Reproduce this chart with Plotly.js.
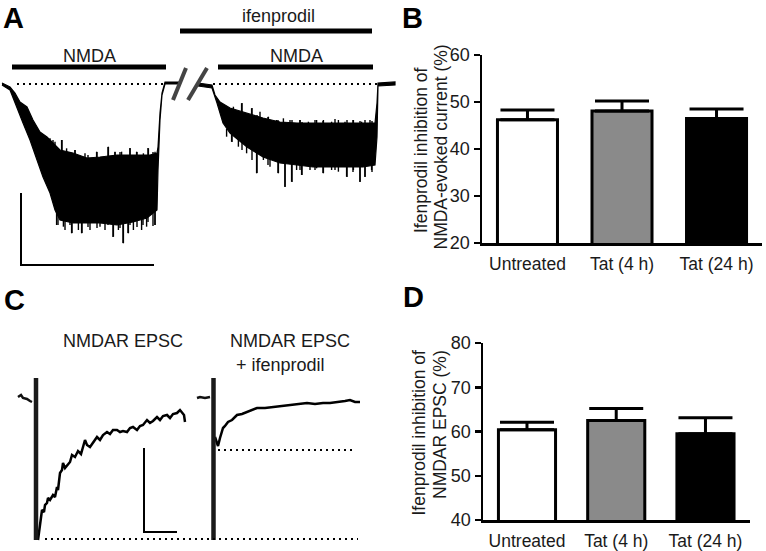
<!DOCTYPE html>
<html>
<head>
<meta charset="utf-8">
<script src="https://cdn.plot.ly/plotly-3.0.1.min.js"></script>
<style>html,body{margin:0;padding:0;background:#fff}#fig{width:766px;height:551px}</style>
</head>
<body>
<div id="fig"></div>
<script>
// ---------- Panel B / D : bar data ----------
const categories = ["Untreated", "Tat (4 h)", "Tat (24 h)"];
const barColors = ["#ffffff", "#8a8a8a", "#000000"];
const inhibCurrent = [46.2, 48.1, 46.5];      // % inhibition of NMDA-evoked current
const inhibCurrentErr = [2.1, 2.1, 2.0];
const inhibEPSC = [60.4, 62.5, 59.5];          // % inhibition of NMDAR EPSC
const inhibEPSCErr = [1.7, 2.7, 3.6];
const yTicksB = [20, 30, 40, 50, 60];
const yTicksD = [40, 50, 60, 70, 80];

// ---------- Panel A : whole-cell NMDA current (time s, current pA) ----------
// trace 1 (control) noisy band: upper and lower envelopes
const a1UpperT = [1, 5, 7.5, 10, 13.5, 16.5, 20, 23.5, 26.5, 30, 36.5, 43.5, 50, 58.5, 66.5, 75, 78.5, 79, 80, 81, 82.5, 90];
const a1UpperI = [10, -30, -90, -180, -230, -360, -480, -530, -590, -660, -690, -740, -730, -710, -710, -710, -690, -630, -290, -90, 20, 20];
const a1LowerT = [1, 5, 8.5, 11.5, 15, 18.5, 21.5, 25, 27.5, 30, 36.5, 43.5, 50, 58.5, 66.5, 73.5, 78.5, 79, 80, 81, 82.5, 90];
const a1LowerI = [-10, -60, -230, -390, -560, -760, -930, -1090, -1260, -1360, -1390, -1390, -1390, -1410, -1380, -1340, -1260, -860, -360, -110, 0, 0];
// noise excursions of trace 1 (time, top, bottom)
const a1SpikeT  = [26.5, 29, 31, 32.5, 35, 36, 37.5, 41, 44, 48.5, 54, 56.5, 57.5, 60, 61.5, 64, 65, 68.5, 71.5, 74, 76.5, 77.5];
const a1SpikeHi = [-560, -660, -560, -710, -680, -710, -660, -760, -710, -680, -630, -710, -680, -680, -710, -740, -640, -680, -710, -640, -680, -710];
const a1SpikeLo = [-1160, -1410, -1310, -1460, -1410, -1490, -1360, -1490, -1430, -1440, -1410, -1530, -1410, -1440, -1590, -1490, -1410, -1430, -1410, -1380, -1420, -1410];
// further upward / downward noise peaks of trace 1
const a1UpT = [25, 27.5, 30.8, 33.3, 37.5, 42.5, 48.3, 54.2, 57.5, 60.8, 65, 68.3, 71.7, 74.2, 77.5];
const a1UpI = [-543, -577, -560, -643, -660, -693, -677, -627, -677, -677, -643, -677, -693, -643, -677];
const a1DownT = [28.3, 31.7, 35.8, 39.2, 40.8, 45, 50, 52.5, 56.7, 59.2, 61.7, 64.2, 66.7, 70.8, 73.3, 77.5];
const a1DownI = [-1410, -1427, -1493, -1460, -1493, -1460, -1427, -1460, -1527, -1460, -1593, -1493, -1460, -1460, -1427, -1410];
// trace 2 (ifenprodil)
const a2UpperT = [99, 106, 107.5, 110, 115, 123.5, 131.5, 140, 148.5, 156.5, 165, 173.5, 181.5, 187.5, 188.5, 189, 197.5];
const a2UpperI = [10, -10, -110, -180, -240, -290, -340, -380, -390, -390, -390, -390, -390, -390, -190, 10, 20];
const a2LowerT = [99, 106, 108.5, 111.5, 115, 123.5, 131.5, 140, 148.5, 156.5, 165, 173.5, 181.5, 187.5, 188.5, 189, 197.5];
const a2LowerI = [-20, -40, -190, -390, -490, -630, -730, -790, -810, -830, -830, -830, -830, -810, -530, -20, -10];
const a2SpikeT  = [116, 121, 126, 128.5, 134, 139, 142.5, 146, 150, 151, 157.5, 161.5, 167.5, 173.5, 176.5, 180, 182.5, 186];
const a2SpikeHi = [-260, -190, -240, -310, -330, -360, -380, -360, -360, -380, -360, -370, -350, -360, -360, -370, -360, -370];
const a2SpikeLo = [-580, -660, -760, -890, -810, -890, -1030, -980, -860, -910, -860, -890, -860, -930, -880, -980, -930, -880];
const a2UpT = [116.7, 120.8, 125.8, 130, 134.2, 138.3, 141.7, 145, 150, 154.2, 158.3, 161.7, 165.8, 169.2, 172.5, 176.7, 180.8, 185];
const a2UpI = [-227, -193, -243, -277, -327, -360, -343, -360, -360, -377, -360, -360, -377, -360, -377, -360, -377, -360];
const a2DownT = [113.3, 115.8, 119.2, 123.3, 128.3, 131.7, 135, 139.2, 142.5, 145.8, 148.3, 150.8, 155, 158.3, 161.7, 165.8, 169.2, 173.3, 176.7, 180, 182.5, 185.8];
const a2DownI = [-527, -577, -627, -693, -893, -760, -827, -893, -1027, -977, -860, -910, -860, -843, -893, -860, -877, -927, -860, -977, -927, -860];
// interior levels of the noisy bands from which the peaks depart
const a1UpBase = -900, a1DownBase = -1200, a2UpBase = -450, a2DownBase = -450;
// drug application periods (s) and their drawing level
const nmdaStart = [6, 109];
const nmdaEnd = [83, 186.5];
const ifenStart = [90];
const ifenEnd = [186];
const nmdaBarLevel = 170, ifenBarLevel = 530;
// dotted baselines (s)
const baseA_start = [8.5, 106.5];
const baseA_end = [82.5, 188.5];
// axis break marks (s, pA)
const breakT = [[86.5, 93], [94, 103.5]];
const breakI = [-160, 160];
// scale bar A
const scaleA_t = [10.5, 10.5, 77];
const scaleA_I = [-1090, -1810, -1810];

// ---------- Panel C : evoked NMDAR EPSCs (time ms, current pA) ----------
const c1PreT = [18, 21, 23, 27, 30, 32];
const c1PreI = [0, 2, -1, -2, -4, -5];
const c1T = [38, 39, 40, 42, 44, 45, 47, 48, 50, 53, 55, 57, 58, 60, 62, 63, 65, 68, 70, 72, 75, 78, 81, 85, 87, 90, 93, 97, 100, 103, 107, 110, 113, 117, 120, 123, 127, 130, 133, 137, 140, 143, 147, 150, 153, 157, 160, 163, 167, 170, 173, 177, 180, 182, 184, 185];
const c1I = [-143, -135, -125, -113, -115, -108, -106, -101, -103, -98, -100, -90, -93, -76, -73, -66, -71, -68, -65, -58, -60, -54, -57, -43, -48, -50, -46, -40, -43, -38, -35, -37, -33, -33, -35, -34, -35, -31, -30, -33, -29, -28, -23, -26, -24, -20, -23, -19, -18, -21, -17, -16, -13, -15, -18, -25];
const c2PreT = [197, 200, 205, 210];
const c2PreI = [-1, 0, -1, 0];
const c2T = [215, 217, 218, 220, 223, 225, 228, 232, 237, 242, 247, 252, 257, 265, 273, 280, 290, 300, 307, 315, 323, 330, 340, 345, 350, 355, 360];
const c2I = [-40, -48, -49, -41, -31, -29, -25, -23, -18, -17, -15, -13, -11, -11, -10, -9, -8, -7, -6, -7, -6, -6, -5, -4, -3, -5, -5];
const stimT = [36, 213.5];
const stimTop = 19, stimBottom = -143;
const peakLineT = [[45, 358], [218, 353]];
const peakLineI = [-142, -53];
const scaleC_t = [144, 144, 177];
const scaleC_I = [-51, -135, -135];

// ---------- build traces ----------
const FONT = "Liberation Sans, Arial, Helvetica, sans-serif";
const traces = [];
function band(uT, uI, lT, lI, xa, ya) {
  traces.push({x: uT.concat(lT.slice().reverse()), y: uI.concat(lI.slice().reverse()),
    xaxis: xa, yaxis: ya, mode: 'lines', fill: 'toself', fillcolor: '#000',
    line: {color: '#000', width: 1.2}, hoverinfo: 'skip'});
}
function spikes(t, hi, lo, xa, ya) {
  const x = [], y = [];
  t.forEach((v, i) => {
    const h = Array.isArray(hi) ? hi[i] : hi, l = Array.isArray(lo) ? lo[i] : lo;
    x.push(v, v, null); y.push(h, l, null);
  });
  traces.push({x, y, xaxis: xa, yaxis: ya, mode: 'lines', line: {color: '#000', width: 1.4}, hoverinfo: 'skip'});
}
function seg(x, y, xa, ya, line) {
  traces.push({x, y, xaxis: xa, yaxis: ya, mode: 'lines', line, hoverinfo: 'skip'});
}
// Panel A
band(a1UpperT, a1UpperI, a1LowerT, a1LowerI, 'x', 'y');
spikes(a1SpikeT, a1SpikeHi, a1SpikeLo, 'x', 'y');
spikes(a1UpT, a1UpI, a1UpBase, 'x', 'y');
spikes(a1DownT, a1DownBase, a1DownI, 'x', 'y');
band(a2UpperT, a2UpperI, a2LowerT, a2LowerI, 'x', 'y');
spikes(a2SpikeT, a2SpikeHi, a2SpikeLo, 'x', 'y');
spikes(a2UpT, a2UpI, a2UpBase, 'x', 'y');
spikes(a2DownT, a2DownBase, a2DownI, 'x', 'y');
nmdaStart.forEach((s, i) => seg([s, nmdaEnd[i]], [nmdaBarLevel, nmdaBarLevel], 'x', 'y', {color: '#000', width: 5}));
ifenStart.forEach((s, i) => seg([s, ifenEnd[i]], [ifenBarLevel, ifenBarLevel], 'x', 'y', {color: '#000', width: 5}));
baseA_start.forEach((s, i) => seg([s, baseA_end[i]], [0, 0], 'x', 'y', {color: '#000', width: 2, dash: '2px,4px'}));
breakT.forEach(bt => seg(bt, breakI, 'x', 'y', {color: '#444', width: 4}));
seg(scaleA_t, scaleA_I, 'x', 'y', {color: '#000', width: 2});
// Panel C
seg(c1PreT, c1PreI, 'x3', 'y3', {color: '#111', width: 2.5});
seg(c1T, c1I, 'x3', 'y3', {color: '#000', width: 2.5});
seg(c2PreT, c2PreI, 'x3', 'y3', {color: '#111', width: 2.5});
seg(c2T, c2I, 'x3', 'y3', {color: '#000', width: 2.5});
stimT.forEach(s => seg([s, s], [stimTop, stimBottom], 'x3', 'y3', {color: '#1a1a1a', width: 4.5}));
peakLineT.forEach((pt, i) => seg(pt, [peakLineI[i], peakLineI[i]], 'x3', 'y3', {color: '#000', width: 2, dash: '2px,4px'}));
seg(scaleC_t, scaleC_I, 'x3', 'y3', {color: '#000', width: 2});
// Panel B and D bars
function bars(vals, errs, xa, ya, w) {
  traces.push({type: 'bar', x: categories, y: vals, xaxis: xa, yaxis: ya, width: w,
    marker: {color: barColors, line: {color: '#000', width: 3}},
    error_y: {type: 'data', symmetric: false, array: errs, arrayminus: errs.map(() => 0),
      color: '#000', thickness: 3, width: 27},
    hoverinfo: 'skip'});
}
bars(inhibCurrent, inhibCurrentErr, 'x2', 'y2', 0.635);
bars(inhibEPSC, inhibEPSCErr, 'x4', 'y4', 0.64);

// ---------- layout ----------
const W = 766, H = 551;
function A(text, px, py, size, opts) {
  return Object.assign({text, x: px / W, y: 1 - py / H, xref: 'paper', yref: 'paper',
    xanchor: 'center', yanchor: 'middle', showarrow: false,
    font: {family: FONT, size, color: '#1a1a1a'}}, opts || {});
}
const hidden = {visible: false, fixedrange: true};
const barX = {type: 'category', showline: true, linecolor: '#000', linewidth: 2.5, ticks: '',
  showgrid: false, zeroline: false, tickfont: {family: FONT, size: 17.5, color: '#1a1a1a'}, ticklabelstandoff: 3};
const barY = {showline: true, linecolor: '#000', linewidth: 2.5, ticks: 'outside', ticklen: 6, tickwidth: 2.5,
  tickcolor: '#000', showgrid: false, zeroline: false, tickfont: {family: FONT, size: 18, color: '#1a1a1a'}};
const letter = {family: FONT, size: 29, color: '#000'};
const layout = {
  width: W, height: H, margin: {l: 0, r: 0, t: 0, b: 0, pad: 0},
  paper_bgcolor: '#fff', plot_bgcolor: 'rgba(0,0,0,0)', showlegend: false, bargap: 0,
  xaxis: Object.assign({domain: [0, 400 / W], range: [0, 200], anchor: 'y'}, hidden),
  yaxis: Object.assign({domain: [1 - 280 / H, 1], range: [-1960, 840], anchor: 'x'}, hidden),
  xaxis3: Object.assign({domain: [0, 400 / W], range: [0, 400], anchor: 'y3'}, hidden),
  yaxis3: Object.assign({domain: [0, 271 / H], range: [-154, 117], anchor: 'x3'}, hidden),
  xaxis2: Object.assign({domain: [482 / W, 762 / W], range: [-0.481, 2.481], anchor: 'y2'}, barX),
  yaxis2: Object.assign({domain: [1 - 243 / H, 1 - 55 / H], range: [20, 60], tickvals: yTicksB, anchor: 'x2'}, barY),
  xaxis4: Object.assign({domain: [483 / W, 750 / W], range: [-0.493, 2.499], anchor: 'y4'}, barX),
  yaxis4: Object.assign({domain: [1 - 520 / H, 1 - 343 / H], range: [40, 80], tickvals: yTicksD, anchor: 'x4'}, barY),
  annotations: [
    A('<b>A</b>', 13, 0, 29, {font: letter, yanchor: 'top'}),
    A('<b>B</b>', 412, 0, 29, {font: letter, yanchor: 'top'}),
    A('<b>C</b>', 14, 300, 29, {font: letter}),
    A('<b>D</b>', 413, 297, 29, {font: letter}),
    A('ifenprodil', 278, 16, 18),
    A('NMDA', 89, 56, 18),
    A('NMDA', 296, 56, 18),
    A('NMDAR EPSC', 123, 341, 18),
    A('NMDAR EPSC', 290, 341, 18),
    A('+ ifenprodil', 280, 365, 18),
    A('Ifenprodil inhibition of', 421, 150, 17.5, {textangle: -90}),
    A('NMDA-evoked current (%)', 440, 147.5, 17.5, {textangle: -90}),
    A('Ifenprodil inhibition of', 418, 432.5, 17.5, {textangle: -90}),
    A('NMDAR EPSC (%)', 440, 425, 17.5, {textangle: -90})
  ]
};
Plotly.newPlot('fig', traces, layout, {staticPlot: true, displayModeBar: false});
</script>
</body>
</html>
